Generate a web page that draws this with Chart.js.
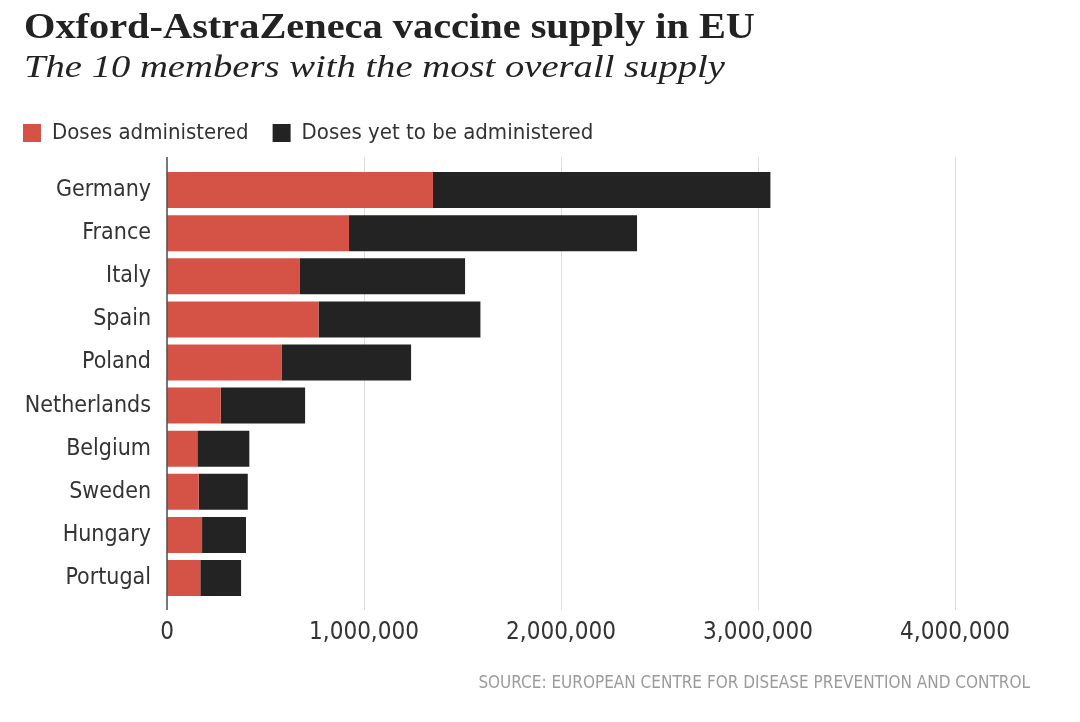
<!DOCTYPE html>
<html>
<head>
<meta charset="utf-8">
<script src="https://cdn.jsdelivr.net/npm/chart.js@4.4.1/dist/chart.umd.min.js"></script>
<style>
  html, body { margin: 0; padding: 0; background: #fff; }
  body { width: 1080px; height: 722px; position: relative; overflow: hidden; }
  #wrap { position: absolute; left: 0; top: 0; width: 1080px; height: 722px; }
  .hd { position: absolute; left: 24px; white-space: nowrap; color: #222; transform-origin: 0 0; }
  #title { top: 9px; font: bold 35px/35px "Liberation Serif", "DejaVu Serif", serif; }
  #subtitle { top: 51px; font: italic 31px/31px "Liberation Serif", "DejaVu Serif", serif; }
  #source { position: absolute; right: 50px; top: 672px; font: 17px/20px "Liberation Sans Narrow", "DejaVu Sans Condensed", "Roboto", sans-serif; color: #9b9b9b; white-space: nowrap; }
</style>
</head>
<body>
<div id="wrap"><canvas id="c" width="1080" height="722"></canvas></div>
<div class="hd" id="title">Oxford-AstraZeneca vaccine supply in EU</div>
<div class="hd" id="subtitle">The 10 members with the most overall supply</div>
<div id="source">SOURCE: EUROPEAN CENTRE FOR DISEASE PREVENTION AND CONTROL</div>
<script>
const countries = ["Germany", "France", "Italy", "Spain", "Poland", "Netherlands", "Belgium", "Sweden", "Hungary", "Portugal"];
const dosesAdministered = [1350000, 924000, 675000, 769000, 581000, 273000, 154000, 161000, 178000, 169000];
const dosesYetToBeAdministered = [1713000, 1462000, 838000, 822000, 658000, 428000, 264000, 249000, 223000, 207000];
const xTickValues = [0, 1000000, 2000000, 3000000, 4000000];
const seriesNames = ["Doses administered", "Doses yet to be administered"];

// fit headline widths to reference
function fitWidth(id, target) {
  const el = document.getElementById(id);
  const w = el.getBoundingClientRect().width;
  el.style.transform = 'scaleX(' + (target / w) + ')';
}
fitWidth('title', 731);
fitWidth('subtitle', 701);

const SANS = '"Liberation Sans Narrow", "DejaVu Sans Condensed", "Roboto", sans-serif';

const extendedGrid = {
  id: 'extendedGrid',
  beforeDatasetsDraw(chart) {
    const {ctx, chartArea, scales: {x}} = chart;
    ctx.save();
    ctx.strokeStyle = '#dcdcdc';
    ctx.lineWidth = 1;
    xTickValues.forEach(v => {
      if (v === 0) return;
      const px = Math.round(x.getPixelForValue(v)) + 0.5;
      ctx.beginPath();
      ctx.moveTo(px, chartArea.top - 11.5);
      ctx.lineTo(px, chartArea.bottom + 10.5);
      ctx.stroke();
    });
    ctx.restore();
  },
  afterDatasetsDraw(chart) {
    const {ctx, chartArea, scales: {x}} = chart;
    const px = x.getPixelForValue(0);
    ctx.save();
    ctx.strokeStyle = '#555';
    ctx.lineWidth = 1.6;
    ctx.beginPath();
    ctx.moveTo(px, chartArea.top - 11.5);
    ctx.lineTo(px, chartArea.bottom + 10.5);
    ctx.stroke();
    ctx.restore();
  }
};

new Chart(document.getElementById('c'), {
  type: 'bar',
  data: {
    labels: countries,
    datasets: [
      { label: seriesNames[0], data: dosesAdministered, backgroundColor: '#d55346', borderWidth: 0 },
      { label: seriesNames[1], data: dosesYetToBeAdministered, backgroundColor: '#232323', borderWidth: 0 }
    ]
  },
  options: {
    indexAxis: 'y',
    responsive: false,
    animation: false,
    devicePixelRatio: 1,
    layout: { padding: { left: -1, right: 125, top: 98, bottom: 62.4 } },
    datasets: { bar: { barPercentage: 0.835, categoryPercentage: 1.0 } },
    plugins: {
      legend: {
        display: true,
        position: 'top',
        align: 'start',
        labels: {
          boxWidth: 18, boxHeight: 18, padding: 24,
          color: '#333',
          font: { family: SANS, size: 22 }
        }
      },
      tooltip: { enabled: false },
      title: { display: false }
    },
    scales: {
      x: {
        type: 'linear',
        stacked: true,
        min: 0, max: 4000000,
        position: 'bottom',
        grid: { display: false },
        border: { display: false },
        afterFit: s => { s.height = 60; },
        afterBuildTicks: s => { s.ticks = xTickValues.map(v => ({ value: v })); },
        ticks: {
          padding: 10.5,
          color: '#333',
          font: { family: SANS, size: 24 },
          callback: v => Number(v).toLocaleString('en-US')
        }
      },
      spacer: {
        type: 'linear',
        position: 'top',
        display: true,
        grid: { display: false },
        border: { display: false },
        ticks: { display: false },
        afterFit: s => { s.height = 14.5; }
      },
      y: {
        type: 'category',
        stacked: true,
        grid: { display: false },
        border: { display: false },
        afterFit: s => { s.width = 168; },
        ticks: {
          padding: 8,
          color: '#333',
          font: { family: SANS, size: 23 }
        }
      }
    }
  },
  plugins: [extendedGrid]
});
</script>
</body>
</html>
